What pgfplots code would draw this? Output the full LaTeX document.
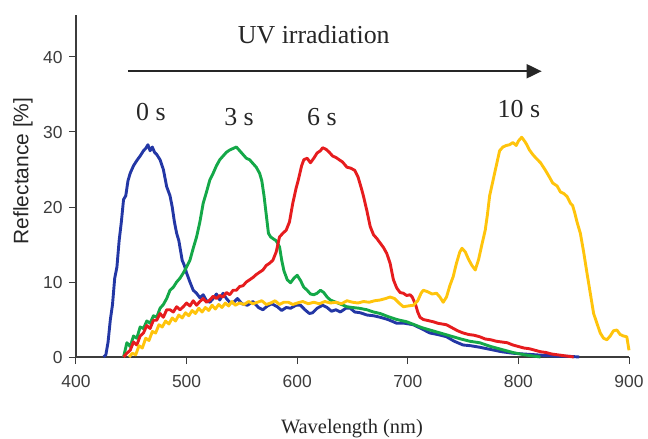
\documentclass[border=0pt]{standalone}
\usepackage{fontspec}
\setmainfont{Liberation Serif}
\newfontfamily\arial{Liberation Sans}
\usepackage{pgfplots}
\pgfplotsset{compat=1.18}
\usetikzlibrary{arrows.meta}
\definecolor{cblue}{RGB}{35,55,165}
\definecolor{cgreen}{RGB}{20,168,72}
\definecolor{cred}{RGB}{230,28,30}
\definecolor{cyel}{RGB}{255,196,12}
\definecolor{axgray}{RGB}{60,60,60}
\begin{document}
\begin{tikzpicture}
\useasboundingbox (-76bp,-82bp) rectangle (572bp,357bp);
\begin{axis}[at={(0,0)}, anchor=south west, scale only axis,
  width=553bp, height=342bp,
  xmin=400, xmax=900, ymin=0, ymax=45.6,
  axis lines*=left, axis line style={-, line width=1.2bp, color=axgray},
  xtick={400,500,...,900}, ytick={0,10,...,40},
  tick align=outside, major tick length=7bp,
  tick style={line width=1bp, color=axgray},
  /pgf/number format/assume math mode=true,
  ticklabel style={font=\arial\fontsize{17.5}{20}\selectfont, text=axgray},
  xticklabel style={yshift=-8bp},
  yticklabel style={xshift=-3bp},
  xlabel={Wavelength (nm)},
  xlabel style={at={(axis description cs:0.499,-0.208)}, anchor=center, font=\fontsize{20.5}{24}\selectfont, text=black!85},
  ylabel={Reflectance [\%]},
  ylabel style={at={(axis description cs:-0.096,0.544)}, anchor=center, font=\arial\fontsize{21}{24}\selectfont, text=black!85},
  clip=false,
  every axis plot/.append style={line width=2.9bp, no marks, line join=round},
]
\addplot[cblue] coordinates {
(425,0) (427,0.3) (429,2) (431,4.9) (433,7) (435,10.5) (437,12) (439,15.5) (441,18) (443,21)
(445,21.5) (447,23.5) (449,24.5) (452,25.5) (455,26.2) (458,26.8) (461,27.5) (463,27.8) (465,28.3)
(467,27.5) (469,28) (471,27.3) (473,27) (476,26.3) (479,25) (482,22.7) (485,21.5) (487,20) (489,18)
(491,16.5) (493,15.5) (496,12.9) (498,12.2) (500,11.2) (503,10) (506,8.9) (509,8.5) (512,7.9)
(515,8.3) (518,7.5) (521,7.3) (524,7.8) (527,8.4) (530,7.6) (533,8.5) (536,7.8) (539,7.3) (542,7.2)
(546,7.8) (550,7.1) (555,6.9) (560,7.4) (565,6.6) (569,6.3) (573,6.8) (577,7.1) (582,6.7) (586,6.2)
(590,6.6) (594,6.5) (599,6.9) (603,6.9) (607,6.3) (611,5.8) (614,5.9) (618,6.5) (623,6.9) (627,6.6)
(631,6.1) (635,6.3) (639,6.0) (644,6.5) (648,6.5) (652,6.0) (657,5.9) (663,5.6) (669,5.5) (675,5.3)
(682,5.0) (690,4.5) (697,4.5) (705,4.3) (712,3.8) (720,3.2) (727,3.0) (735,2.7) (742,2.1) (750,1.6)
(757,1.5) (765,1.3) (775,1.0) (785,0.7) (795,0.5) (805,0.4) (815,0.3) (825,0.2) (835,0.1) (845,0.1) (855,0)
};
\addplot[cgreen] coordinates {
(443,0) (446,1.9) (449,1.4) (452,2.8) (455,2.5) (458,4) (461,3.8) (464,4.8) (467,4.5) (470,5.5)
(473,5.3) (476,6.5) (479,7) (482,7.8) (485,8.9) (488,9.3) (491,10) (494,10.5) (497,11.2) (500,12)
(503,12.9) (506,14.5) (509,16) (512,18) (515,20.5) (518,22) (521,23.6) (524,24.5) (527,25.5) (530,26.3)
(533,26.8) (536,27.3) (539,27.6) (542,27.8) (545,28) (548,27.5) (551,27) (554,26.5) (557,26.3) (560,25.8)
(563,25.3) (566,24.5) (568,23.5) (570,21.5) (572,19) (574,16.5) (576,16) (578,15.8) (581,15.5) (584,14.7)
(586,12.9) (588,11.5) (591,10.3) (594,9.9) (597,10.5) (600,10.9) (603,10.2) (606,9.3) (609,8.9) (612,8.4)
(615,8.3) (618,8.5) (621,8.9) (624,8.6) (627,8) (630,7.6) (635,7.3) (640,7) (645,6.7) (650,6.6)
(656,6.5) (663,6.3) (669,6) (675,5.8) (682,5.4) (690,5.0) (699,4.7) (706,4.3) (713,3.9) (720,3.6)
(727,3.3) (734,3.0) (741,2.7) (748,2.4) (756,2.1) (765,1.9) (775,1.4) (785,1.0) (795,0.6) (805,0.3) (815,0.1) (820,0)
};
\addplot[cred] coordinates {
(443,0) (446,0.5) (449,0.9) (452,2) (455,1.6) (458,2.8) (461,3.2) (464,4.2) (467,3.8) (470,4.9)
(473,4.9) (476,5.8) (479,5.3) (482,6.3) (485,6.3) (488,6.0) (491,6.7) (494,6.3) (497,6.7) (500,7.2)
(503,6.8) (506,7.5) (509,6.9) (512,7.4) (515,7.8) (518,7.3) (521,7.6) (524,8.1) (527,7.8) (530,8.2)
(533,8) (536,8.6) (539,8.3) (542,8.9) (545,8.9) (548,9.4) (551,9.5) (554,10) (557,10.3) (560,10.6)
(563,11.0) (566,11.3) (569,11.6) (572,12.2) (575,12.5) (578,12.9) (581,14) (584,16) (587,16.5) (590,16.9)
(593,18) (596,20.5) (599,22.5) (601,23.6) (604,25.5) (606,26.3) (609,26.5) (612,25.9) (615,26.5) (618,27.2)
(621,27.5) (623,27.9) (626,27.7) (629,27.3) (632,26.8) (635,26.6) (638,26.3) (641,26) (645,25.3) (648,25.2)
(652,24.9) (655,24) (658,22.5) (660,21.4) (663,19.5) (666,17.4) (669,16.3) (672,15.8) (675,15.2) (678,14.6)
(681,13.8) (684,12.5) (687,10.3) (690,9.2) (693,8.6) (696,8.5) (699,8.2) (702,8.3) (704,8) (707,7)
(709,6) (711,5.3) (714,5.0) (717,4.9) (720,4.8) (723,4.7) (727,4.5) (731,4.4) (735,4.3) (740,3.9)
(745,3.5) (750,3.2) (755,3.0) (760,2.9) (765,2.7) (770,2.4) (775,2.3) (780,2.1) (785,2.0) (790,1.9)
(795,1.6) (800,1.4) (805,1.2) (810,1.1) (815,0.9) (820,0.7) (825,0.6) (830,0.4) (835,0.3) (840,0.2) (845,0.1) (850,0)
};
\addplot[cyel] coordinates {
(448,0) (451,0.5) (454,0.3) (457,1.5) (460,1.2) (463,2.5) (466,2.2) (469,3.4) (472,3.2) (475,4.3)
(478,4.0) (481,4.8) (484,4.4) (487,5.2) (490,4.8) (493,5.6) (496,5.2) (499,5.9) (502,5.5) (505,6.2)
(508,5.8) (511,6.5) (514,6.0) (517,6.6) (520,6.2) (523,6.9) (526,6.4) (529,7.0) (532,6.6) (535,7.2)
(538,6.8) (541,7.4) (544,6.9) (548,7.2) (552,7.0) (556,7.4) (560,7.1) (564,7.3) (568,7.5) (572,7.0)
(576,7.2) (580,7.5) (584,7.0) (588,7.3) (592,7.3) (596,7.0) (600,7.2) (605,7.4) (610,7.1) (615,7.3)
(620,7.1) (625,7.4) (630,7.2) (635,7.3) (640,7.1) (645,7.5) (650,7.3) (655,7.2) (660,7.4) (665,7.3)
(670,7.5) (675,7.6) (680,7.8) (684,8.0) (688,7.8) (692,7.2) (696,6.7) (700,6.8) (705,6.9) (709,7.5)
(712,8.5) (714,8.9) (718,8.7) (722,8.4) (726,8.5) (729,8.0) (732,7.3) (735,8.0) (738,9.5) (741,10.7)
(744,12.5) (747,14.0) (749,14.5) (752,14.0) (755,13.0) (758,12.2) (761,11.6) (764,13) (767,15) (770,16.9)
(772,19) (774,21.5) (777,23.5) (780,25.5) (783,27.5) (786,28) (789,28.2) (792,28.3) (795,28.6) (798,28.2)
(800,28.8) (803,29.3) (806,28.7) (808,28.2) (810,27.6) (813,27.0) (816,26.5) (820,25.9) (824,25) (828,24.0)
(831,23.2) (835,22.8) (838,22.0) (841,21.8) (844,21.4) (847,20.5) (849,20.2) (851,19.2) (853,18) (856,16.5)
(859,14) (862,11.2) (865,8.5) (868,5.8) (871,4.5) (874,3.2) (877,2.5) (880,2.3) (883,2.8) (886,3.5)
(889,3.6) (892,3.0) (895,2.8) (898,2.7) (900,0.9)
};
\draw[line width=2bp, color=black!85, -{Triangle[length=15bp,width=14bp]}] (axis cs:447,38.1) -- (axis cs:821,38.1);
\node[font=\fontsize{26}{30}\selectfont, text=black!85] at (axis cs:615,43) {UV irradiation};
\node[font=\fontsize{26}{30}\selectfont, text=black!85] at (axis cs:467.8,32.6) {0 s};
\node[font=\fontsize{26}{30}\selectfont, text=black!85] at (axis cs:547.4,32.0) {3 s};
\node[font=\fontsize{26}{30}\selectfont, text=black!85] at (axis cs:622.4,32.0) {6 s};
\node[font=\fontsize{26}{30}\selectfont, text=black!85] at (axis cs:800.5,33.1) {10 s};
\end{axis}
\end{tikzpicture}
\end{document}
